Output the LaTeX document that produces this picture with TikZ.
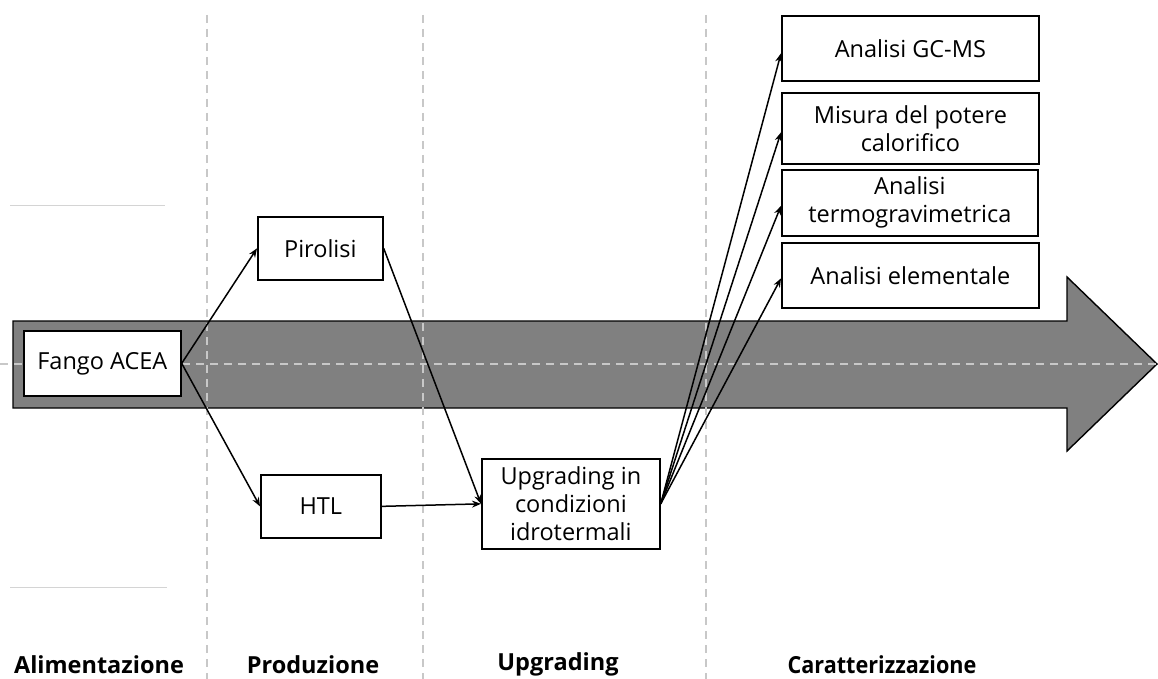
\documentclass[tikz,border=0pt]{standalone}
\usepackage{fontspec}
\setmainfont{Open Sans}
\usetikzlibrary{arrows.meta,calc}
\definecolor{bandgray}{HTML}{808080}
\definecolor{guide}{HTML}{C8C8C8}
\definecolor{shortln}{HTML}{D4D4D4}
\tikzset{
  box/.style={draw=black,line width=1.7pt,fill=white,anchor=north west,align=center,inner sep=2pt,font=\fontsize{23.5}{28}\selectfont},
  conn/.style={-{Stealth[length=9pt,width=7pt]},line width=1.5pt},
  guideln/.style={draw=guide,line width=1.4pt,dash pattern=on 8pt off 6pt},
  phase/.style={font=\bfseries\fontsize{23.5}{26}\selectfont,anchor=base}
}
\begin{document}
\begin{tikzpicture}[x=1pt,y=-1pt]
\useasboundingbox (0,0) rectangle (1158,679);
% big arrow
\draw[fill=bandgray,line width=1.4pt] (13,321) -- (1067,321) -- (1067,277) -- (1157,364) -- (1067,451) -- (1067,408) -- (13,408) -- cycle;
% short gray lines
\draw[shortln,line width=1pt] (10,205) -- (165,205);
\draw[shortln,line width=1pt] (10,587) -- (167,587);
% guide lines
\draw[guideln] (0,364) -- (1158,364);
\foreach \x in {207,423,706} \draw[guideln] (\x,15) -- (\x,679);
% boxes
\node[box,minimum width=157pt,minimum height=65pt] (fango) at (23,330) {Fango ACEA};
\node[box,minimum width=125pt,minimum height=63pt] (pir) at (257,216) {Pirolisi};
\node[box,minimum width=120pt,minimum height=63pt] (htl) at (260,474) {HTL};
\node[box,minimum width=178pt,minimum height=90pt] (upg) at (481,458) {Upgrading in\\condizioni\\idrotermali};
\node[box,minimum width=257pt,minimum height=65pt] (gc) at (781,15) {Analisi GC-MS};
\node[box,minimum width=257pt,minimum height=71pt] (mis) at (781,92) {Misura del potere\\calorifico};
\node[box,minimum width=256pt,minimum height=66pt] (tga) at (781,169) {Analisi\\termogravimetrica};
\node[box,minimum width=257pt,minimum height=65pt] (ele) at (781,242) {Analisi elementale};
% connectors
\draw[conn] (fango.east) -- (pir.west);
\draw[conn] (fango.east) -- (htl.west);
\draw[conn] (pir.east) -- (upg.west);
\draw[conn] (htl.east) -- (upg.west);
\draw[conn] (upg.east) -- ([yshift=-5pt]gc.west);
\draw[conn] (upg.east) -- ([yshift=-4pt]mis.west);
\draw[conn] (upg.east) -- ([yshift=-3pt]tga.west);
\draw[conn] (upg.east) -- ([yshift=-3pt]ele.west);
% phase labels
\node[phase] (l1) at (99,673) {Alimentazione};
\node[phase] (l2) at (313,673) {Produzione};
\node[phase] (l3) at (558,670) {Upgrading};
\node[phase,xscale=0.92] (l4) at (882,673) {Caratterizzazione};
\end{tikzpicture}
\end{document}
